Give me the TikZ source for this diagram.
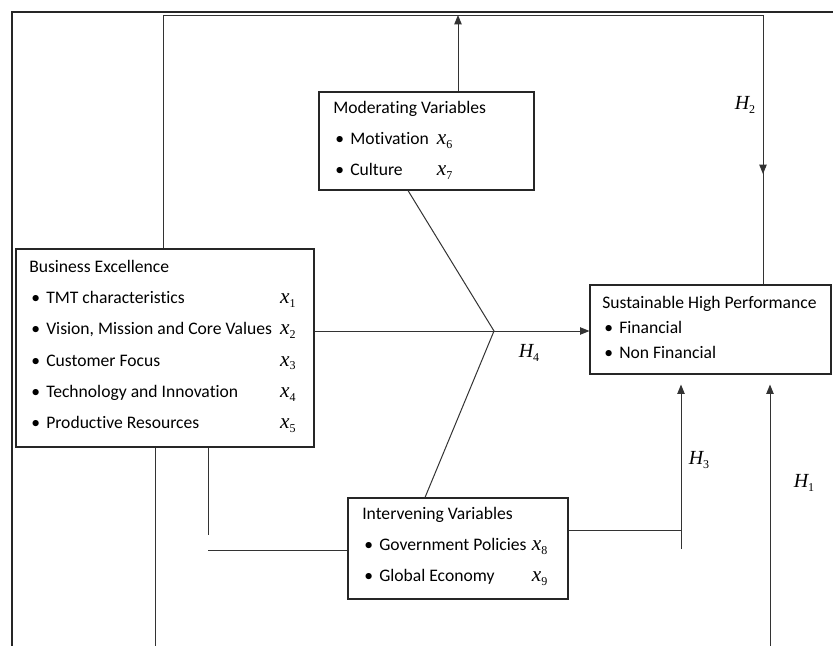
\documentclass[tikz,border=0pt]{standalone}
\usepackage{fontspec}
\setmainfont{Carlito}[Ligatures=NoCommon]
\newfontfamily\symfont{Liberation Serif}
\usetikzlibrary{arrows.meta,positioning,calc,fit}
\newcommand{\xvar}[1]{{\symfont\itshape\fontsize{16}{16}\selectfont x}\raisebox{-3pt}{\symfont\fontsize{9}{9}\selectfont #1}}
\newcommand{\hyp}[1]{{\symfont\itshape\fontsize{15}{15}\selectfont H}\raisebox{-3.5pt}{\symfont\fontsize{9}{9}\selectfont #1}}
\newcommand{\bitem}[1]{\makebox[12.75pt][l]{\hspace{1.5pt}\textbullet}#1}
\newcommand{\boxtitle}[1]{\multicolumn{2}{@{}l@{}}{#1}}
\tikzset{
  varbox/.style={draw=black!85, line width=0.8pt, inner sep=0pt},
  vartext/.style={anchor=base west, inner sep=0pt, font=\fontsize{13.2}{23.5}\selectfont},
  link/.style={draw=black!80, line width=0.75pt},
  arrowlink/.style={link, -{Triangle[length=7pt,width=5.5pt]}},
  hyplabel/.style={inner sep=0pt},
  frameline/.style={line width=1.6pt, black!85}
}
\begin{document}
\begin{tikzpicture}[x=0.75pt, y=-0.75pt]
  \useasboundingbox (0,0) rectangle (833,646);
  \draw[frameline] (12,646) |- (833,12);

  % boxes
  \node[varbox, fit={(16,249) (314,447)}] (be) {};
  \node[varbox, fit={(319,92) (534,190)}] (mod) {};
  \node[varbox, fit={(348,498) (568,599)}] (inter) {};
  \node[varbox, fit={(590,285) (831,374)}] (shp) {};

  % box texts
  \node[vartext] (betext) at (29,272) {\begin{tabular}[t]{@{}l@{\hspace{6pt}}l@{}}
    \boxtitle{Business Excellence}\\
    \bitem{TMT characteristics} & \xvar{1}\\
    \bitem{Vision, Mission and Core Values} & \xvar{2}\\
    \bitem{Customer Focus} & \xvar{3}\\
    \bitem{Technology and Innovation} & \xvar{4}\\
    \bitem{Productive Resources} & \xvar{5}
  \end{tabular}};
  \node[vartext] (modtext) at (333,113) {\begin{tabular}[t]{@{}l@{\hspace{6pt}}l@{}}
    \boxtitle{Moderating Variables}\\
    \bitem{Motivation} & \xvar{6}\\
    \bitem{Culture} & \xvar{7}
  \end{tabular}};
  \node[vartext] (intertext) at (362,519) {\begin{tabular}[t]{@{}l@{\hspace{4pt}}l@{}}
    \boxtitle{Intervening Variables}\\
    \bitem{Government Policies} & \xvar{8}\\
    \bitem{Global Economy} & \xvar{9}
  \end{tabular}};
  \node[vartext, font=\fontsize{13.2}{19}\selectfont] (shptext) at (602,308) {\begin{tabular}[t]{@{}l@{}}
    Sustainable High Performance\\
    \bitem{Financial}\\
    \bitem{Non Financial}
  \end{tabular}};

  % junction points
  \coordinate (loopleft) at (163,15);
  \coordinate (loopright) at (763,15);
  \coordinate (h2tail) at (763,138);
  \coordinate (h2tip) at (763,174);
  \coordinate (modtop) at (458,15);
  \coordinate (modfoot) at (408,190);
  \coordinate (hub) at (494,331);
  \coordinate (interhead) at (425,498);
  \coordinate (h3join) at (681,530);
  \coordinate (h3foot) at (681,549);
  \coordinate (h1foot) at (770,646);
  \coordinate (leftfoot) at (155,646);
  \coordinate (stub) at (208,535);
  \coordinate (stubend) at (208,550);

  % connectors
  \draw[link] (be.north -| loopleft) |- (loopright) -- (shp.north -| loopright);
  \draw[arrowlink] (h2tail) -- (h2tip);
  \draw[arrowlink] (mod.north -| modtop) -- (modtop);
  \draw[link] (mod.south -| modfoot) -- (hub) -- (inter.north -| interhead);
  \draw[arrowlink] (be.east |- hub) -- (shp.west |- hub);
  \draw[link] (inter.east |- h3join) -- (h3join);
  \draw[arrowlink, shorten >=7.5pt] (h3foot) -- (shp.south -| h3foot);
  \draw[arrowlink, shorten >=7.5pt] (h1foot) -- (shp.south -| h1foot);
  \draw[link] (be.south -| leftfoot) -- (leftfoot);
  \draw[link] (be.south -| stub) -- (stub);
  \draw[link] (stubend) -- (inter.west |- stubend);

  % hypothesis labels
  \node[hyplabel] (h2) at (745,105) {\hyp{2}};
  \node[hyplabel] (h4) at (529,353) {\hyp{4}};
  \node[hyplabel] (h3) at (699,460) {\hyp{3}};
  \node[hyplabel] (h1) at (804,483) {\hyp{1}};
\end{tikzpicture}
\end{document}
